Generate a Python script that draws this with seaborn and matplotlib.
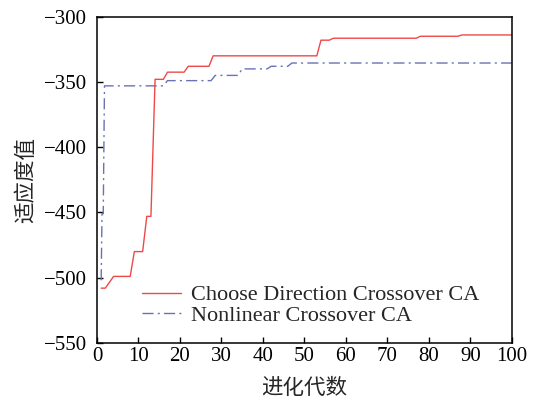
import matplotlib
matplotlib.use("Agg")
import matplotlib.pyplot as plt
import seaborn as sns
import pandas as pd

# Best fitness per generation (breakpoints of each curve)
cd_gen = [1, 2, 4, 8, 9, 11, 12, 13, 14, 16, 17, 21, 22, 27, 28, 53, 54, 56, 57, 77, 78, 87, 88, 100]
cd_fit = [-508, -508, -499, -499, -480, -480, -453, -453, -348, -348, -342.5, -342.5, -338, -338,
          -330, -330, -318, -318, -316.5, -316.5, -315, -315, -314, -314]

nl_gen = [1, 1.2, 1.5, 1.8, 16, 17, 27.5, 28.5, 34, 35, 41, 42, 46, 47, 100]
nl_fit = [-502, -451, -451, -353, -353, -349, -349, -345, -345, -340, -340, -338, -338, -335.5, -335.5]

series_names = ["Choose Direction Crossover CA", "Nonlinear Crossover CA"]
x_ticks = [0, 10, 20, 30, 40, 50, 60, 70, 80, 90, 100]
y_ticks = [-550, -500, -450, -400, -350, -300]

sns.set_theme(style="white")
plt.rcParams["font.family"] = ["Liberation Serif", "Noto Sans CJK SC"]
plt.rcParams["axes.unicode_minus"] = True

df = pd.concat([
    pd.DataFrame({"gen": cd_gen, "fit": cd_fit, "series": series_names[0]}),
    pd.DataFrame({"gen": nl_gen, "fit": nl_fit, "series": series_names[1]}),
])

fig = plt.figure(figsize=(5.39, 4.03), dpi=100)
ax = fig.add_axes([0.180, 0.149, 0.7694, 0.8096])

sns.lineplot(data=df, x="gen", y="fit", hue="series", style="series",
             palette=["#f04848", "#6a72b4"],
             dashes=[(None, None), (8, 3, 1.5, 3)],
             estimator=None, sort=False, linewidth=1.0, ax=ax)

ax.set_xlim(0, 100)
ax.set_ylim(-550, -300)
ax.set_xticks(x_ticks)
ax.set_yticks(y_ticks)
ax.tick_params(direction="in", length=4, width=1, labelsize=15,
               bottom=True, left=True, top=False, right=False, colors="black")
ax.tick_params(axis="x", pad=3)
ax.tick_params(axis="y", pad=7)
for s in ax.spines.values():
    s.set_color("black")
    s.set_linewidth(1.1)

cjk = ["Noto Sans CJK SC", "DejaVu Sans"]
ax.set_xlabel("进化代数", family=cjk, fontsize=15.5, labelpad=8)
ax.set_ylabel("适应度值", family=cjk, fontsize=15.5, labelpad=5)

leg = ax.legend(loc="lower left", bbox_to_anchor=(0.108, 0.052), frameon=False,
                fontsize=16, handlelength=1.75, handletextpad=0.47,
                labelspacing=0.0, borderaxespad=0, borderpad=0)
ax.grid(False)

fig.savefig("out.png", dpi=100, facecolor="white")
